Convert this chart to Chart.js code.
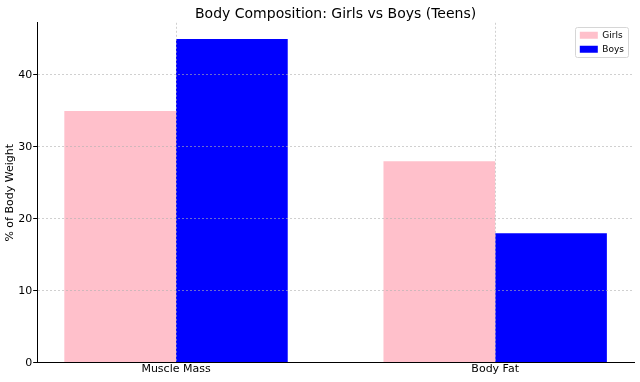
<!DOCTYPE html>
<html>
<head>
<meta charset="utf-8">
<script src="https://cdn.jsdelivr.net/npm/chart.js@4"></script>
<style>
  html, body { margin: 0; padding: 0; background: #fff; }
  #wrap { width: 640px; height: 382px; position: relative; }
</style>
</head>
<body>
<div id="wrap"><canvas id="chartBody"></canvas></div>
<script>
// datos
const categories = ['Muscle Mass', 'Body Fat'];
const girls = [35, 28];
const boys = [45, 18];
const yTicks = [0, 10, 20, 30, 40];

const FONT = "'DejaVu Sans', sans-serif";
const gridCol = 'rgba(176,176,176,0.6)';

// leyenda arriba a la derecha dentro del area, con marco
const legendFrame = {
  id: 'legendFrame',
  afterLayout(chart) {
    const lg = chart.legend, ca = chart.chartArea;
    if (!lg) return;
    const nl = ca.right - lg.width;
    lg.left = nl; lg.right = nl + lg.width;
    lg.top = ca.top + 3; lg.bottom = ca.bottom;
  },
  afterDraw(chart) {
    const lg = chart.legend;
    if (!lg || !lg.legendHitBoxes || !lg.legendHitBoxes.length) return;
    let x0 = Infinity, y0 = Infinity, x1 = -Infinity, y1 = -Infinity;
    lg.legendHitBoxes.forEach(b => { x0 = Math.min(x0, b.left); y0 = Math.min(y0, b.top); x1 = Math.max(x1, b.left + b.width); y1 = Math.max(y1, b.top + b.height); });
    const ctx = chart.ctx;
    ctx.save();
    ctx.strokeStyle = '#d6d6d6';
    ctx.lineWidth = 1;
    ctx.beginPath();
    ctx.roundRect(Math.round(x0 - 5) + 0.5, Math.round(y0 - 4) + 0.5, Math.round(x1 - x0 + 9), Math.round(y1 - y0 + 7), 2);
    ctx.stroke();
    ctx.restore();
  }
};

new Chart(document.getElementById('chartBody'), {
  type: 'bar',
  data: {
    datasets: [
      { label: 'Girls', data: girls.map((v, i) => ({ x: i, y: v })), backgroundColor: '#ffc0cb', borderWidth: 0 },
      { label: 'Boys', data: boys.map((v, i) => ({ x: i, y: v })), backgroundColor: '#0000ff', borderWidth: 0 }
    ]
  },
  options: {
    responsive: true,
    maintainAspectRatio: false,
    animation: false,
    categoryPercentage: 0.7,
    barPercentage: 1.0,
    layout: { padding: { left: 0, right: 6, top: 4, bottom: 6 } },
    plugins: {
      title: {
        display: true, fullSize: false,
        text: 'Body Composition: Girls vs Boys (Teens)',
        color: '#000', font: { family: FONT, size: 14, weight: 'normal' },
        padding: { top: 2, bottom: 0 }
      },
      legend: {
        position: 'chartArea', align: 'start',
        labels: { boxWidth: 18, boxHeight: 7, padding: 5, color: '#000', font: { family: FONT, size: 9 } }
      },
      tooltip: { enabled: false }
    },
    scales: {
      x: {
        type: 'linear',
        offset: false,
        min: -0.435, max: 1.435,
        afterBuildTicks: s => { s.ticks = categories.map((c, i) => ({ value: i })); },
        ticks: { callback: v => categories[v], color: '#000', font: { family: FONT, size: 11 }, padding: 0, maxRotation: 0 },
        grid: { offset: false, z: 1, color: gridCol, tickColor: 'rgba(0,0,0,0)', tickLength: 0, tickBorderDash: [] },
        border: { display: true, z: 2, color: '#000', width: 1, dash: [2, 2] }
      },
      y: {
        min: 0, max: 47.25,
        afterBuildTicks: s => { s.ticks = yTicks.map(v => ({ value: v })); },
        ticks: { color: '#000', font: { family: FONT, size: 11 }, padding: 1 },
        grid: { z: 1, color: gridCol, tickColor: '#000', tickLength: 4, tickBorderDash: [] },
        border: { display: true, z: 2, color: '#000', width: 1, dash: [2, 2] },
        title: { display: true, text: '% of Body Weight', color: '#000', font: { family: FONT, size: 11 }, padding: { top: 4, bottom: 0 } }
      }
    }
  },
  plugins: [legendFrame]
});
</script>
</body>
</html>
